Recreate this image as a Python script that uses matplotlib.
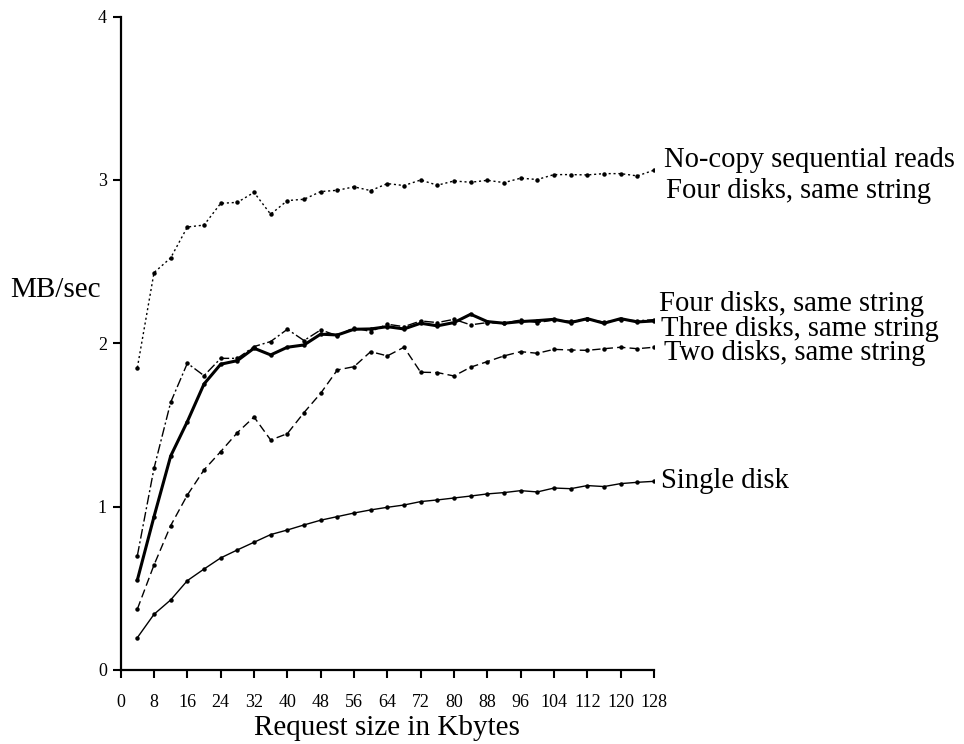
import matplotlib
matplotlib.use("Agg")
import matplotlib.pyplot as plt

plt.rcParams['font.family'] = ['Liberation Serif', 'DejaVu Serif']

request_kb = list(range(4, 129, 4))

single_disk = [0.198, 0.341, 0.429, 0.547, 0.618, 0.686, 0.735, 0.782, 0.829, 0.857,
               0.888, 0.917, 0.939, 0.961, 0.980, 0.996, 1.010, 1.031, 1.041, 1.053,
               1.065, 1.078, 1.086, 1.098, 1.090, 1.114, 1.110, 1.129, 1.123, 1.141,
               1.149, 1.155]
two_disks = [0.373, 0.643, 0.884, 1.071, 1.225, 1.337, 1.453, 1.549, 1.408, 1.447,
             1.576, 1.694, 1.837, 1.857, 1.949, 1.923, 1.976, 1.823, 1.821, 1.800,
             1.854, 1.888, 1.923, 1.949, 1.939, 1.963, 1.959, 1.957, 1.967, 1.976,
             1.967, 1.976]
three_disks = [0.700, 1.235, 1.639, 1.878, 1.802, 1.908, 1.908, 1.980, 2.011, 2.086,
               2.017, 2.082, 2.047, 2.096, 2.072, 2.117, 2.102, 2.137, 2.127, 2.147,
               2.113, 2.127, 2.123, 2.143, 2.127, 2.143, 2.135, 2.148, 2.130, 2.145,
               2.138, 2.145]
four_disks = [0.551, 0.939, 1.310, 1.521, 1.751, 1.872, 1.894, 1.970, 1.929, 1.976,
              1.990, 2.056, 2.051, 2.086, 2.088, 2.102, 2.088, 2.123, 2.107, 2.127,
              2.178, 2.133, 2.123, 2.133, 2.139, 2.147, 2.127, 2.151, 2.123, 2.151,
              2.131, 2.137]
nocopy_four = [1.851, 2.433, 2.523, 2.712, 2.724, 2.857, 2.863, 2.924, 2.790, 2.874,
               2.882, 2.929, 2.937, 2.958, 2.935, 2.978, 2.966, 3.000, 2.968, 2.994,
               2.986, 2.998, 2.984, 3.011, 3.003, 3.033, 3.033, 3.031, 3.039, 3.039,
               3.025, 3.060]

x_ticks = list(range(0, 129, 8))
y_ticks = [0, 1, 2, 3, 4]

labels = [
    ("No-copy sequential reads", 130.5, 3.12),
    ("Four disks, same string", 130.8, 2.93),
    ("Four disks, same string", 129.3, 2.24),
    ("Three disks, same string", 129.8, 2.09),
    ("Two disks, same string", 130.5, 1.94),
    ("Single disk", 129.8, 1.16),
]

fig = plt.figure(figsize=(9.64, 7.44), dpi=100)
ax = fig.add_axes([0.1252, 0.0995, 0.5532, 0.8781])

mk = dict(marker='o', markersize=2.2, markerfacecolor='black', markeredgecolor='black')
ax.plot(request_kb, single_disk, color='black', linewidth=1.0, linestyle='-', **mk)
ax.plot(request_kb, two_disks, color='black', linewidth=1.0, linestyle=(0, (6, 3)), **mk)
ax.plot(request_kb, three_disks, color='black', linewidth=1.0, linestyle=(0, (7, 2, 1.5, 2)), **mk)
ax.plot(request_kb, four_disks, color='black', linewidth=2.2, linestyle='-', **mk)
ax.plot(request_kb, nocopy_four, color='black', linewidth=1.0, linestyle=(0, (1.5, 2)), **mk)

ax.set_xlim(0, 128)
ax.set_ylim(0, 4)
ax.set_xticks(x_ticks)
ax.set_yticks(y_ticks)
ax.tick_params(axis='both', direction='out', length=6, width=1.5, labelsize=13, pad=4)
ax.tick_params(axis='x', pad=11)
ax.spines['top'].set_visible(False)
ax.spines['right'].set_visible(False)
ax.spines['left'].set_linewidth(1.6)
ax.spines['bottom'].set_linewidth(1.6)

for txt, xx, yy in labels:
    ax.text(xx, yy, txt, fontsize=20.6, va='center', ha='left', clip_on=False)

fig.text(10 / 964, 1 - 290 / 744, "MB/sec", fontsize=21, ha='left', va='center')
fig.text(387 / 964, 1 - 735 / 744, "Request size in Kbytes", fontsize=21, ha='center', va='baseline')

fig.savefig("out.png", dpi=100)
